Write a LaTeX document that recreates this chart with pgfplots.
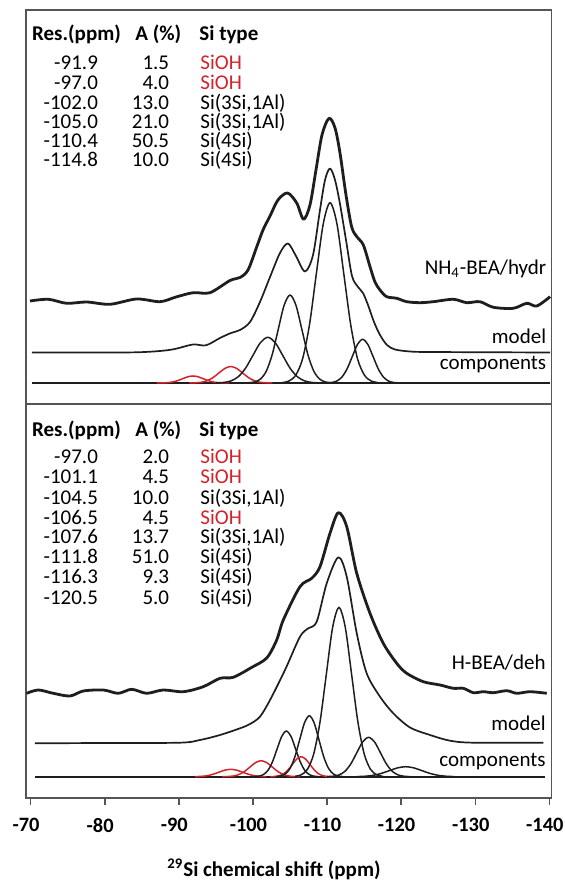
\documentclass[border=0pt]{standalone}
\usepackage{fontspec}
\setmainfont{Carlito}
\usepackage{pgfplots}
\pgfplotsset{compat=1.18}
\definecolor{sired}{RGB}{210,35,42}
\definecolor{framegray}{RGB}{85,85,85}
\definecolor{ink}{RGB}{30,30,30}
\begin{document}
\begin{tikzpicture}[
  txt/.style={font=\fontsize{10.5}{12.6}\selectfont, inner sep=0pt},
  hdr/.style={font=\bfseries\fontsize{10.5}{12.6}\selectfont, inner sep=0pt}]
\path[use as bounding box] (-12.85pt,-41.5pt) rectangle (269.15pt,399pt);
\begin{axis}[at={(0,0)}, anchor=south west,
  width=262.9pt, height=394pt, scale only axis,
  xmin=-140.28, xmax=-69.33, x dir=reverse, ymin=-798, ymax=-10,
  axis line style={draw=framegray, line width=0.9pt},
  xtick={-140,-130,-120,-110,-100,-90,-80,-70},
  xtick pos=left, tick align=outside, major tick length=3.5pt,
  every tick/.style={draw=framegray, line width=0.8pt},
  ytick=\empty,
  /pgf/number format/assume math mode=true,
  xticklabel style={font=\bfseries\fontsize{10.2}{12.2}\selectfont, text=black, xshift=-2.3pt, yshift=-3pt},
  exp/.style={ink, line width=1.4pt, smooth, line join=round},
  mod/.style={ink, line width=0.85pt, smooth, line join=round},
  cmp/.style={ink, line width=0.75pt, smooth, line join=round},
  rcmp/.style={sired, line width=0.75pt, smooth, line join=round},
]
% ===== upper panel: NH4-BEA/hydr =====
\addplot[exp] coordinates {(-69.91,-301) (-72.38,-299.3) (-74.86,-303.3) (-77.56,-302) (-80.7,-304.3) (-84.3,-299) (-87.45,-301.7) (-89.61,-297) (-91.94,-292.7) (-94.2,-292.7) (-96.9,-280.5) (-98.25,-277.5) (-99.33,-270) (-100.5,-247) (-101.35,-230) (-102.3,-216) (-103.37,-200) (-104.66,-193) (-105.9,-203) (-106.82,-219.3) (-107.69,-205) (-108.5,-170) (-109.31,-135) (-110.26,-118.3) (-111.07,-128) (-111.74,-153) (-112.55,-195) (-113.32,-227) (-114.04,-237) (-114.89,-245) (-115.79,-266.7) (-116.46,-282) (-117.14,-290) (-118.04,-296.7) (-119.39,-298.3) (-120.74,-301.7) (-122.54,-302.7) (-124.33,-301.7) (-127.03,-299.3) (-128.84,-302.7) (-130.63,-301.7) (-132.43,-307.3) (-135.13,-308.3) (-136.94,-303.3) (-138.29,-306) (-140.09,-296.7)};
\addplot[mod] coordinates {(-70.18,-352.5) (-79.35,-352.5) (-84.35,-352.3) (-87.45,-351) (-89.47,-349) (-91.9,-344.5) (-93.66,-345.3) (-95.55,-338) (-97.03,-333) (-98.25,-330) (-99.6,-322) (-100.94,-302) (-102.3,-277) (-103.64,-253) (-104.72,-243.5) (-105.8,-256) (-107.02,-271.5) (-108.1,-255) (-109.04,-210) (-109.72,-180) (-110.39,-168.5) (-111.07,-180) (-111.74,-204) (-112.55,-240) (-113.36,-276) (-114.17,-287) (-114.84,-293) (-115.52,-305) (-116.33,-322) (-117.14,-335) (-118.08,-345) (-119.16,-349.5) (-121.19,-351.5) (-123.89,-352) (-140.08,-352.5)};
\addplot[sired, line width=0.8pt] coordinates {(-70.13,-383.7) (-140.08,-383.7)};
\addplot[ink, line width=1.0pt] coordinates {(-70.13,-383) (-140.08,-383)};
\addplot[rcmp] coordinates {(-87.0,-382.98) (-87.7,-382.92) (-88.4,-382.69) (-89.1,-382.05) (-89.8,-380.73) (-90.5,-378.75) (-91.2,-376.82) (-91.9,-376) (-92.6,-376.82) (-93.3,-378.75) (-94.0,-380.73) (-94.7,-382.05) (-95.4,-382.69) (-96.1,-382.92) (-96.8,-382.98)};
\addplot[rcmp] coordinates {(-91.4,-382.96) (-92.2,-382.82) (-93.0,-382.28) (-93.8,-380.77) (-94.6,-377.64) (-95.4,-372.99) (-96.2,-368.44) (-97.0,-366.5) (-97.8,-368.44) (-98.6,-372.99) (-99.4,-377.64) (-100.2,-380.77) (-101.0,-382.28) (-101.8,-382.82) (-102.6,-382.96)};
\addplot[cmp] coordinates {(-95.0,-382.9) (-96.0,-382.49) (-97.0,-380.99) (-98.0,-376.82) (-99.0,-368.16) (-100.0,-355.28) (-101.0,-342.67) (-102.0,-337.3) (-103.0,-342.67) (-104.0,-355.28) (-105.0,-368.16) (-106.0,-376.82) (-107.0,-380.99) (-108.0,-382.49) (-109.0,-382.9)};
\addplot[cmp] coordinates {(-99.4,-382.81) (-100.2,-382.02) (-101.0,-379.14) (-101.8,-371.09) (-102.6,-354.43) (-103.4,-329.63) (-104.2,-305.34) (-105.0,-295.0) (-105.8,-305.34) (-106.6,-329.63) (-107.4,-354.43) (-108.2,-371.09) (-109.0,-379.14) (-109.8,-382.02) (-110.6,-382.81)};
\addplot[cmp] coordinates {(-103.93,-382.6) (-104.85,-381.0) (-105.78,-375.08) (-106.7,-358.61) (-107.63,-324.46) (-108.55,-273.65) (-109.48,-223.89) (-110.4,-202.7) (-111.33,-223.89) (-112.25,-273.65) (-113.18,-324.46) (-114.1,-358.61) (-115.03,-375.08) (-115.95,-381.0) (-116.88,-382.6)};
\addplot[cmp] coordinates {(-109.9,-382.9) (-110.6,-382.51) (-111.3,-381.08) (-112.0,-377.09) (-112.7,-368.81) (-113.4,-356.5) (-114.1,-344.43) (-114.8,-339.3) (-115.5,-344.43) (-116.2,-356.5) (-116.9,-368.81) (-117.6,-377.09) (-118.3,-381.08) (-119.0,-382.51) (-119.7,-382.9)};
% ===== lower panel: H-BEA/deh =====
\addplot[exp] coordinates {(-69.46,-693.3) (-71.03,-690) (-73.05,-693.3) (-75.3,-696) (-77.1,-691) (-79.8,-690) (-81.82,-693.3) (-83.63,-689.3) (-85.65,-693.3) (-87.89,-690) (-90.59,-691.7) (-93.29,-686.7) (-95.55,-678.3) (-97.34,-677.3) (-99.8,-667.5) (-101.85,-658) (-103.2,-640) (-104.09,-620) (-106.34,-586.7) (-107.92,-578.3) (-109.04,-566.7) (-110.39,-533.3) (-111.51,-512.7) (-112.65,-526.7) (-114.0,-573.3) (-115.79,-613.3) (-117.58,-643.3) (-119.39,-663.3) (-120.74,-673.3) (-122.98,-681.7) (-125.24,-685) (-127.03,-688.3) (-128.38,-688.3) (-129.73,-692.7) (-131.08,-691.7) (-132.43,-692.7) (-134.24,-690.7) (-135.59,-693.3) (-137.38,-691.7) (-139.64,-693.3)};
\addplot[mod] coordinates {(-70.58,-743.3) (-80,-743) (-90.15,-742.7) (-92.85,-740) (-95.55,-735) (-98.25,-728.3) (-99.6,-724) (-100.94,-716.7) (-102.3,-700) (-104.32,-670) (-106.34,-636.7) (-107.46,-628.3) (-108.6,-621.7) (-109.95,-583.3) (-111.51,-557.3) (-112.65,-576.7) (-114.0,-633.3) (-115.34,-673.3) (-117.14,-696.7) (-118.93,-713.3) (-121.19,-727.5) (-123.89,-735) (-126.59,-740.7) (-129.73,-742.7) (-139.18,-742.7)};
\addplot[sired, line width=0.8pt] coordinates {(-70.58,-777.4) (-139.4,-777.4)};
\addplot[ink, line width=1.0pt] coordinates {(-70.58,-776.7) (-139.4,-776.7)};
\addplot[rcmp] coordinates {(-92.2,-776.62) (-93.0,-776.38) (-93.8,-775.7) (-94.6,-774.3) (-95.4,-772.21) (-96.2,-770.17) (-97.0,-769.3) (-97.8,-770.17) (-98.6,-772.21) (-99.4,-774.3) (-100.2,-775.7) (-101.0,-776.38) (-101.8,-776.62)};
\addplot[rcmp] coordinates {(-95.85,-776.66) (-96.6,-776.52) (-97.35,-776.0) (-98.1,-774.54) (-98.85,-771.5) (-99.6,-767.0) (-100.35,-762.58) (-101.1,-760.7) (-101.85,-762.58) (-102.6,-767.0) (-103.35,-771.5) (-104.1,-774.54) (-104.85,-776.0) (-105.6,-776.52) (-106.35,-776.66)};
\addplot[cmp] coordinates {(-100.13,-776.6) (-100.75,-776.19) (-101.38,-774.69) (-102.0,-770.52) (-102.63,-761.86) (-103.25,-748.98) (-103.88,-736.37) (-104.5,-731.0) (-105.13,-736.37) (-105.75,-748.98) (-106.38,-761.86) (-107.0,-770.52) (-107.63,-774.69) (-108.25,-776.19) (-108.88,-776.6)};
\addplot[rcmp] coordinates {(-102.3,-776.66) (-102.9,-776.48) (-103.5,-775.82) (-104.1,-773.99) (-104.7,-770.21) (-105.3,-764.57) (-105.9,-759.05) (-106.5,-756.7) (-107.1,-759.05) (-107.7,-764.57) (-108.3,-770.21) (-108.9,-773.99) (-109.5,-775.82) (-110.1,-776.48) (-110.7,-776.66)};
\addplot[cmp] coordinates {(-103.05,-776.57) (-103.7,-776.02) (-104.35,-774.02) (-105.0,-768.45) (-105.65,-756.89) (-106.3,-739.7) (-106.95,-722.87) (-107.6,-715.7) (-108.25,-722.87) (-108.9,-739.7) (-109.55,-756.89) (-110.2,-768.45) (-110.85,-774.02) (-111.5,-776.02) (-112.15,-776.57)};
\addplot[cmp] coordinates {(-105.65,-776.33) (-106.5,-774.82) (-107.35,-769.26) (-108.2,-753.78) (-109.05,-721.7) (-109.9,-674.0) (-110.75,-627.2) (-111.6,-607.3) (-112.45,-627.2) (-113.3,-674.0) (-114.15,-721.7) (-115.0,-753.78) (-115.85,-769.26) (-116.7,-774.82) (-117.55,-776.33)};
\addplot[cmp] coordinates {(-110.0,-776.61) (-110.8,-776.26) (-111.6,-774.97) (-112.4,-771.37) (-113.2,-763.91) (-114.0,-752.8) (-114.8,-741.93) (-115.6,-737.3) (-116.4,-741.93) (-117.2,-752.8) (-118.0,-763.91) (-118.8,-771.37) (-119.6,-774.97) (-120.4,-776.26) (-121.2,-776.61)};
\addplot[cmp] coordinates {(-114.0,-776.59) (-115.1,-776.26) (-116.2,-775.35) (-117.3,-773.45) (-118.4,-770.64) (-119.5,-767.88) (-120.6,-766.7) (-121.7,-767.88) (-122.8,-770.64) (-123.9,-773.45) (-125.0,-775.35) (-126.1,-776.26) (-127.2,-776.59)};
\end{axis}
\begin{scope}[x=0.5pt,y=-0.5pt,shift={(-12.85pt,399pt)}]
\draw[framegray, line width=0.9pt] (25.7,404) -- (551.5,404);
% upper table
\node[hdr, anchor=base west] at (31.7,41) {Res.(ppm)};
\node[hdr, anchor=base west] at (135,41) {A (\%)};
\node[hdr, anchor=base west] at (199,41) {Si type};
\foreach \r/\a/\t/\c/\y in {-91.9/1.5/SiOH/sired/69.3, -97.0/4.0/SiOH/sired/89.3, -102.0/13.0/{Si(3Si,1Al)}/black/109.5, -105.0/21.0/{Si(3Si,1Al)}/black/129, -110.4/50.5/Si(4Si)/black/147.8, -114.8/10.0/Si(4Si)/black/166.3}{
  \node[txt, anchor=base east] at (98.3,\y) {\r};
  \node[txt, anchor=base east] at (169.5,\y) {\a};
  \node[txt, anchor=base west, text=\c] at (200,\y) {\t};
}
% lower table
\node[hdr, anchor=base west] at (31.7,436.7) {Res.(ppm)};
\node[hdr, anchor=base west] at (135,436.7) {A (\%)};
\node[hdr, anchor=base west] at (199,436.7) {Si type};
\foreach \r/\a/\t/\c/\y in {-97.0/2.0/SiOH/sired/463.3, -101.1/4.5/SiOH/sired/484, -104.5/10.0/{Si(3Si,1Al)}/black/505, -106.5/4.5/SiOH/sired/524.3, -107.6/13.7/{Si(3Si,1Al)}/black/544, -111.8/51.0/Si(4Si)/black/563.3, -116.3/9.3/Si(4Si)/black/583.3, -120.5/5.0/Si(4Si)/black/605}{
  \node[txt, anchor=base east] at (98.3,\y) {\r};
  \node[txt, anchor=base east] at (169.5,\y) {\a};
  \node[txt, anchor=base west, text=\c] at (200,\y) {\t};
}
% curve labels
\node[txt, anchor=base east] at (546.7,274.3) {NH\textsubscript{4}-BEA/hydr};
\node[txt, anchor=base east] at (546.5,344) {model};
\node[txt, anchor=base east] at (546.5,370) {components};
\node[txt, anchor=base east] at (546,669.3) {H-BEA/deh};
\node[txt, anchor=base east] at (546,730.7) {model};
\node[txt, anchor=base east] at (546,766.7) {components};
% x label
\node[hdr, anchor=base] at (274,876) {\textsuperscript{29}Si chemical shift (ppm)};
\end{scope}
\end{tikzpicture}
\end{document}
